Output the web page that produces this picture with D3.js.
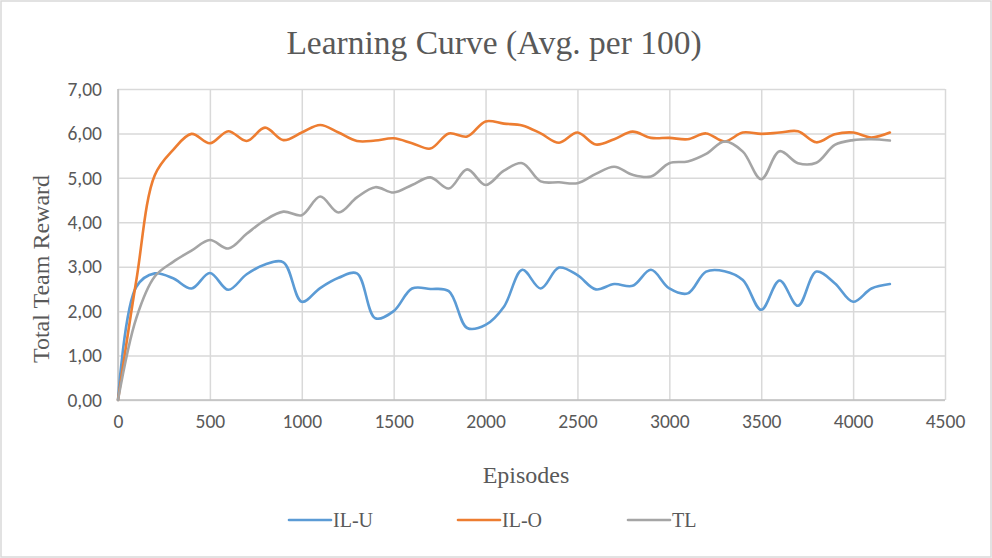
<!DOCTYPE html>
<html><head><meta charset="utf-8">
<script src="https://cdn.jsdelivr.net/npm/d3@7/dist/d3.min.js"></script>
<style>body{margin:0;background:#fff}svg{display:block}</style>
</head><body>
<svg id="chart" width="992" height="558"></svg>
<script>
const episodes = [0,100,200,300,400,500,600,700,800,900,1000,1100,1200,1300,1400,1500,1600,1700,1800,1900,2000,2100,2200,2300,2400,2500,2600,2700,2800,2900,3000,3100,3200,3300,3400,3500,3600,3700,3800,3900,4000,4100,4200];
const ilU = [0,2.55,2.85,2.74,2.51,2.86,2.48,2.83,3.05,3.1,2.21,2.52,2.75,2.85,1.84,2.0,2.51,2.5,2.45,1.62,1.69,2.1,2.93,2.51,2.98,2.81,2.49,2.61,2.57,2.93,2.51,2.4,2.89,2.9,2.7,2.03,2.69,2.12,2.89,2.63,2.21,2.51,2.61];
const ilO = [0,2.7,5.06,5.63,5.99,5.78,6.05,5.83,6.13,5.85,6.02,6.19,6.02,5.83,5.84,5.89,5.78,5.66,6.0,5.93,6.27,6.22,6.18,6.0,5.79,6.02,5.75,5.87,6.04,5.9,5.9,5.87,6.0,5.82,6.02,5.99,6.02,6.05,5.8,5.98,6.02,5.91,6.02];
const tl = [0,1.85,2.78,3.11,3.36,3.6,3.41,3.74,4.05,4.24,4.16,4.58,4.22,4.56,4.79,4.67,4.84,5.01,4.76,5.19,4.84,5.16,5.33,4.92,4.9,4.88,5.09,5.25,5.07,5.03,5.33,5.37,5.54,5.82,5.59,4.97,5.6,5.33,5.34,5.74,5.85,5.87,5.84];
const seriesNames = ["IL-U","IL-O","TL"];
const seriesColors = ["#5b9bd5","#ed7d31","#a5a5a5"];
const xTicks = [0,500,1000,1500,2000,2500,3000,3500,4000,4500];
const yTicks = [0,1,2,3,4,5,6,7];
const titleText = "Learning Curve (Avg. per 100)";
const xTitle = "Episodes";
const yTitle = "Total Team Reward";

const svg = d3.select("#chart");
const W = 992, H = 558;
const m = {left:118, right:47, top:89, bottom:158};
const x = d3.scaleLinear().domain([0,4500]).range([m.left, W - m.right]);
const y = d3.scaleLinear().domain([0,7]).range([H - m.bottom, m.top]);

const serif = "Liberation Serif";
const sans = "Carlito";
const textColor = "#595959";

svg.append("rect").attr("x",1).attr("y",1).attr("width",W-2).attr("height",H-2)
  .attr("fill","#fff").attr("stroke","#d9d9d9").attr("stroke-width",1.5);

// gridlines + tick labels
const gx = svg.append("g").attr("transform",`translate(0,${y(0)})`)
  .call(d3.axisBottom(x).tickValues(xTicks).tickSize(-(y(0)-y(7))).tickFormat(d=>d).tickPadding(14));
gx.attr("font-family",sans).attr("font-size",19.5);
gx.select(".domain").remove();
gx.selectAll(".tick line").attr("stroke","#d9d9d9").attr("stroke-width",1.5);
gx.selectAll(".tick text").attr("fill",textColor);

const gy = svg.append("g").attr("transform",`translate(${x(0)},0)`)
  .call(d3.axisLeft(y).tickValues(yTicks).tickSize(-(x(4500)-x(0))).tickFormat(d=>d3.format(".2f")(d).replace(".",",")).tickPadding(16));
gy.attr("font-family",sans).attr("font-size",19.5);
gy.select(".domain").remove();
gy.selectAll(".tick line").attr("stroke","#d9d9d9").attr("stroke-width",1.5);
gy.selectAll(".tick text").attr("fill",textColor);

// axis lines
svg.append("line").attr("x1",x(0)).attr("x2",x(4500)).attr("y1",y(0)).attr("y2",y(0))
  .attr("stroke","#bfbfbf").attr("stroke-width",1.5);
svg.append("line").attr("x1",x(0)).attr("x2",x(0)).attr("y1",y(0)).attr("y2",y(7))
  .attr("stroke","#bfbfbf").attr("stroke-width",1.5);

const data = [ilU, ilO, tl];
const line = d3.line().x((d,i)=>x(episodes[i])).y(d=>y(d)).curve(d3.curveCatmullRom.alpha(0.5));
data.forEach((s,k)=>{
  svg.append("path").datum(s).attr("d",line).attr("fill","none")
    .attr("stroke",seriesColors[k]).attr("stroke-width",2.6).attr("stroke-linecap","round").attr("stroke-linejoin","round");
});

// titles
svg.append("text").attr("x",494).attr("y",54).attr("text-anchor","middle")
  .attr("fill",textColor).attr("font-family",serif).attr("font-size",33.5).text(titleText);
svg.append("text").attr("x",526).attr("y",483).attr("text-anchor","middle")
  .attr("fill",textColor).attr("font-family",serif).attr("font-size",24).text(xTitle);
svg.append("text").attr("transform",`translate(49,269) rotate(-90)`).attr("text-anchor","middle")
  .attr("fill",textColor).attr("font-family",serif).attr("font-size",24).text(yTitle);

// legend
const legX = [289, 458, 628];
seriesNames.forEach((n,k)=>{
  const g = svg.append("g").attr("transform",`translate(${legX[k]},520)`);
  g.append("line").attr("x1",0).attr("x2",42).attr("y1",0).attr("y2",0)
    .attr("stroke",seriesColors[k]).attr("stroke-width",2.6).attr("stroke-linecap","round");
  g.append("text").attr("x",44).attr("y",7).attr("fill",textColor)
    .attr("font-family",serif).attr("font-size",20).text(n);
});
</script>
</body></html>
